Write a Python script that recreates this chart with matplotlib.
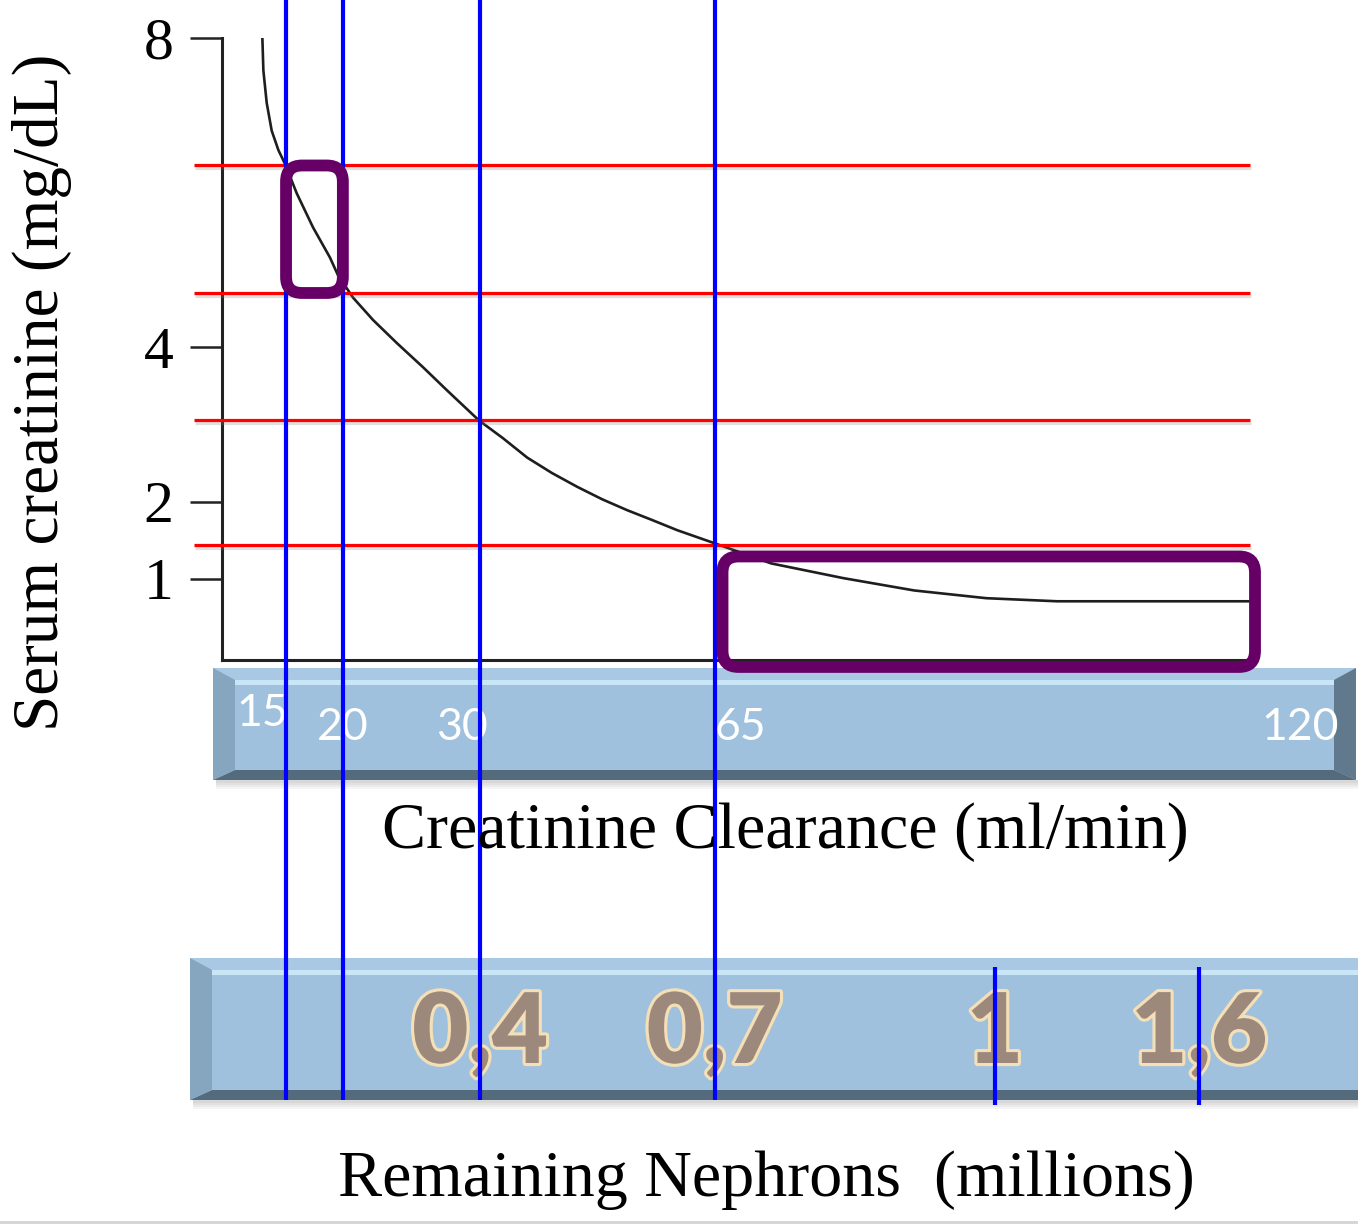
import numpy as np
import matplotlib.pyplot as plt
import matplotlib.patheffects as pe
from matplotlib.patches import Polygon, Rectangle, FancyBboxPatch
from matplotlib.transforms import IdentityTransform

# curve: creatinine clearance (ml/min) -> serum creatinine (mg/dL)
clearance = [13.15, 13.23, 13.49, 13.88, 14.4, 14.92, 15.94, 17.37, 18.86, 19.57,
             20.74, 22.2, 23.94, 25.83, 27.58, 29.91, 33.4, 37.0, 40.7, 44.5,
             48.2, 51.9, 55.7, 59.4, 65.0, 70.8, 78.2, 85.5, 92.9, 100.2, 120.0]
creatinine = [8.01, 7.58, 7.16, 6.8, 6.55, 6.37, 5.99, 5.55, 5.16, 4.93,
              4.64, 4.35, 4.05, 3.74, 3.44, 3.05, 2.82, 2.57, 2.37, 2.19,
              2.03, 1.89, 1.76, 1.63, 1.46, 1.2, 1.01, 0.85, 0.75, 0.71, 0.71]

# the clearance axis is not linear: clearance value -> fraction of axis width
scale_clearance = [10, 15, 20, 30, 65, 120, 120.5]
scale_frac = [0.0, 0.062, 0.117, 0.25, 0.477, 0.995, 1.0]

y_ticks = [1, 2, 4, 8]

clearance_marks = [15, 20, 30, 65]          # blue verticals
creatinine_marks = [6.35, 4.70, 3.05, 1.44]  # red horizontals

clearance_labels = ['15', '20', '30', '65', '120']
clearance_label_at = [15, 20, 30, 65, 120]

nephron_labels = ['0,4', '0,7', '1', '1,6']
nephron_at_clearance = [30, 65, 93.8, 114.8]
nephron_marks = [93.8, 114.8]

highlight_x = [(15, 20), (65.8, 120.5)]
highlight_y = [(4.70, 6.35), (-0.14, 1.29)]

W, H = 1358, 1225
serif = 'Liberation Serif'

fig = plt.figure(figsize=(W / 100, H / 100), dpi=100)

# background canvas in pixels (y down) for the bevelled bars
bg = fig.add_axes([0, 0, 1, 1], zorder=-1)
bg.set_xlim(0, W)
bg.set_ylim(H, 0)
bg.axis('off')


def bevel_bar(x0, y0, x1, y1, side=22, top=12, bottom=10):
    for k in range(4):
        bg.add_patch(Rectangle((x0 + 3, y1), x1 - x0, 3 + 2 * k, color='black', alpha=0.04, lw=0))
    bg.add_patch(Rectangle((x0, y0), x1 - x0, y1 - y0, color='#9fc1dd', lw=0))
    bg.add_patch(Polygon([(x0, y0), (x1, y0), (x1 - side, y0 + top), (x0 + side, y0 + top)],
                         color='#a8c8e3', lw=0))
    bg.add_patch(Rectangle((x0 + side, y0 + top), x1 - x0 - 2 * side, 5, color='#c8e6f6', lw=0))
    bg.add_patch(Polygon([(x0, y1), (x1, y1), (x1 - side, y1 - bottom), (x0 + side, y1 - bottom)],
                         color='#546b7d', lw=0))
    bg.add_patch(Polygon([(x0, y0), (x0 + side, y0 + top), (x0 + side, y1 - bottom), (x0, y1)],
                         color='#86a5bf', lw=0))
    bg.add_patch(Polygon([(x1, y0), (x1 - side, y0 + top), (x1 - side, y1 - bottom), (x1, y1)],
                         color='#60798c', lw=0))


bevel_bar(213, 668, 1356, 780)
bevel_bar(190, 958, 1380, 1100)
bg.plot([0, W], [1222, 1222], color='#d4d4d4', lw=2)

# chart axes
ax = fig.add_axes([222 / W, (H - 660) / H, 1033 / W, 622 / H])
ax.set_facecolor('none')
ax.set_xscale('function', functions=(lambda v: np.interp(v, scale_clearance, scale_frac),
                                     lambda f: np.interp(f, scale_frac, scale_clearance)))
ax.set_xlim(10, 120.5)
ax.set_ylim(-0.05, 8)
ax.set_xticks([])
ax.set_yticks(y_ticks)
ax.set_yticklabels([str(t) for t in y_ticks], fontfamily=serif, fontsize=43)
ax.tick_params(axis='y', direction='out', length=23, width=1.8, color='#222222', pad=12)
for s in ['top', 'right']:
    ax.spines[s].set_visible(False)
for s in ['left', 'bottom']:
    ax.spines[s].set_linewidth(2.2)
    ax.spines[s].set_color('#222222')

ax.plot(clearance, creatinine, color='#1e1e1e', lw=1.9, zorder=2, solid_joinstyle='round')

ax.hlines(creatinine_marks, -0.027, 0.995, transform=ax.get_yaxis_transform(),
          colors='#ff0000', lw=2.3, clip_on=False, zorder=3,
          path_effects=[pe.SimpleLineShadow(offset=(1, -2), shadow_color='gray', alpha=0.25),
                        pe.Normal()])
ax.vlines(clearance_marks, -0.707, 1.07, transform=ax.get_xaxis_transform(),
          colors='#0000ff', lw=3, clip_on=False, zorder=4)
ax.vlines(nephron_marks, -0.715, -0.494, transform=ax.get_xaxis_transform(),
          colors='#0000ff', lw=3, clip_on=False, zorder=4)

# white clearance labels inside the upper bar
label_dx = [-24, 0, -18, 26, 50]
label_dy = [-54, -67, -67, -67, -67]
for lab, x, dx, dy in zip(clearance_labels, clearance_label_at, label_dx, label_dy):
    ax.annotate(lab, xy=(x, 0), xycoords=ax.get_xaxis_transform(),
                xytext=(dx, dy), textcoords='offset pixels', ha='center', va='center',
                color='white', fontsize=32, fontfamily='Lato', annotation_clip=False, zorder=3)

# nephron labels inside the lower bar
for lab, x in zip(nephron_labels, nephron_at_clearance):
    ax.annotate(lab, xy=(x, 0), xycoords=ax.get_xaxis_transform(),
                xytext=(0, -403), textcoords='offset pixels', ha='center', va='baseline',
                color='#9d887c', fontsize=70, fontfamily='Lato', fontweight='heavy',
                annotation_clip=False, zorder=3,
                path_effects=[pe.withStroke(linewidth=4.5, foreground='#f4dfb6')])

# purple highlight boxes
for (x0, x1), (y0, y1) in zip(highlight_x, highlight_y):
    p0 = ax.transData.transform((x0, y0))
    p1 = ax.transData.transform((x1, y1))
    box = FancyBboxPatch((p0[0], p0[1]), p1[0] - p0[0], p1[1] - p0[1],
                         boxstyle='round,pad=0,rounding_size=16', transform=IdentityTransform(),
                         fill=False, ec='#660066', lw=8.5, zorder=6)
    fig.add_artist(box)

fig.text(42 / W, 1 - 392 / H, 'Serum creatinine (mg/dL)', rotation=90, ha='center', va='center',
         fontfamily=serif, fontsize=47)
fig.text(785 / W, 1 - 832 / H, 'Creatinine Clearance (ml/min)', ha='center', va='center',
         fontfamily=serif, fontsize=47.5)
fig.text(766 / W, 1 - 1180 / H, 'Remaining Nephrons  (millions)', ha='center', va='center',
         fontfamily=serif, fontsize=47.5)

plt.savefig('out.png', dpi=100)
